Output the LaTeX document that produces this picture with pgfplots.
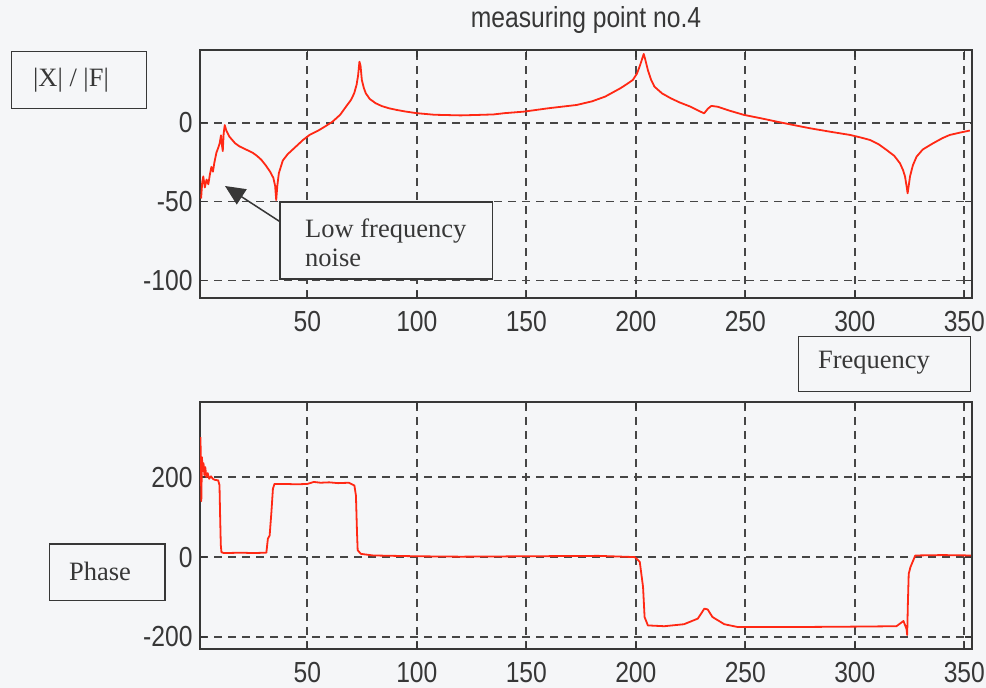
\documentclass[border=0pt]{standalone}
\usepackage{pgfplots}
\pgfplotsset{compat=1.18}
\usepackage{fontspec}
\setmainfont{Liberation Serif}
\newfontfamily\plotfont[FakeStretch=0.85]{Liberation Sans}
\usetikzlibrary{arrows.meta}

\definecolor{bg}{RGB}{245,246,248}
\definecolor{frame}{RGB}{55,55,55}
\definecolor{gridc}{RGB}{70,70,70}
\definecolor{curve}{RGB}{255,40,20}

\pgfplotsset{
  matlab/.style={
    scale only axis,
    width=772bp, height=248bp,
    xmin=1, xmax=353.5,
    xtick={50,100,150,200,250,300,350},
    xticklabels={50,100,150,200,250,300,350},
    grid=major,
    grid style={gridc, line width=1.7bp, dash pattern=on 8bp off 6bp},
    major grid style={gridc, line width=1.7bp, dash pattern=on 8bp off 6bp},
    axis line style={frame, line width=1.7bp},
    tick align=inside, tick pos=both,
    major tick length=7bp,
    tick style={frame, line width=1.5bp},
    ticklabel style={font=\plotfont\fontsize{29bp}{29bp}\selectfont, text=frame},
    xticklabel style={inner sep=1.5bp, yshift=-11.5bp},
    yticklabel style={xshift=-4bp},
  },
  trace/.style={curve, line width=1.8bp, line join=round},
}

\newcommand\boxfont{\fontsize{26.5bp}{28bp}\selectfont}

\begin{document}
\begin{tikzpicture}
\useasboundingbox (0,0) rectangle (986bp,688bp);
\fill[bg] (0,0) rectangle (986bp,688bp);

% magnitude of the frequency response
\begin{axis}[matlab, at={(200bp,390bp)}, anchor=south west,
  ymin=-111, ymax=46,
  ytick={-100,-50,0}, yticklabels={-100,-50,0}]
\addplot[trace] coordinates {
 (1.5,-48) (2.0,-38) (2.5,-34) (3.2,-41) (4.0,-36) (4.8,-39) (5.5,-33)
 (6.2,-28) (6.9,-31) (7.6,-25) (8.5,-19) (9.3,-16) (10.0,-13) (10.6,-8)
 (11.0,-14) (11.4,-18) (11.8,-7) (12.3,-1.5) (13.0,-5) (14.5,-9) (17,-13)
 (19,-15) (22,-17) (25,-19) (27,-21) (29,-23.5) (31,-27) (33,-31)
 (34.5,-35) (35.3,-40) (35.8,-49) (36.3,-40) (37,-32) (38.8,-24) (41,-20)
 (44.9,-15) (48,-11) (51,-7.8) (55,-5) (58,-2.5) (61.5,0.6) (65,5)
 (67.6,10) (70,14.5) (71.4,18.6) (72.5,24) (73.2,30) (73.8,38.6) (74.3,36)
 (74.9,27) (75.8,22) (76.7,18.6) (78.5,15) (81.2,12.3) (84,10.5) (87.3,9.1)
 (91,8) (95,7) (100,6) (104,5.5) (108,5) (120,4.6) (128,4.9) (135,5.2)
 (140,6.0) (149,7) (160,9.1) (173,11.2) (180,13.5) (186,16.5) (193,21.8)
 (196,24.5) (198.6,27) (200.5,31) (201.7,35.4) (202.8,40) (203.6,43.5)
 (204.3,40) (205.5,33.3) (207,27) (208.5,22.8) (212,18.5) (216,15.4)
 (220,12.8) (225,10.1) (229,7.3) (231.2,5.9) (233,9) (234.5,10.6)
 (237.3,10.1) (243,7.5) (249.4,4.9) (257,2.8) (264.5,0.6) (272,-1.5)
 (279.7,-3.6) (289,-5.8) (297.9,-7.8) (303,-9.5) (307,-11) (311,-13.8)
 (314.5,-17.3) (318,-21) (320.6,-25.7) (322,-30) (322.9,-34) (323.6,-40)
 (324.1,-44.7) (324.6,-40) (325.2,-34) (326.5,-27) (328.2,-21.5) (331,-17)
 (335.8,-13) (340,-9.8) (343.3,-7.8) (348,-6.3) (352.5,-5)
};
\end{axis}

% phase of the frequency response
\begin{axis}[matlab, at={(200bp,39bp)}, anchor=south west,
  height=247bp,
  ymin=-230, ymax=388,
  ytick={-200,0,200}, yticklabels={-200,0,200}]
\addplot[trace] coordinates {
 (1.2,300) (1.4,240) (1.6,140) (1.9,250) (2.2,215) (2.6,235) (3.0,205)
 (3.4,225) (3.9,200) (4.5,210) (5.2,196) (6,202) (7,195) (8,193) (9.3,192)
 (9.9,180) (10.2,100) (10.5,30) (10.8,12) (12,10) (20,11) (25,10)
 (31.3,11) (32,46) (32.8,54) (33.6,112) (34.3,171) (35,183) (40,183)
 (45,182) (50,183) (53,188) (56,186) (60,187) (64,185) (69,186) (71.5,179)
 (72.2,154) (72.7,60) (73,17) (74.5,8) (80,4) (90,3) (100,2) (120,1)
 (150,2) (183,3) (199.5,0) (201.8,-12) (203.3,-75) (204,-150) (205.5,-171)
 (213,-173) (222,-168) (228.3,-154) (231.3,-129) (232.8,-131) (235,-150)
 (240.4,-168) (246.5,-175) (274,-175) (300,-174) (319,-173) (322.2,-160)
 (323.6,-180) (323.9,-195) (324.2,-120) (324.6,-42) (325.4,-25) (327.6,4)
 (340,5) (353,4)
};
\end{axis}

% title
\node[font=\plotfont\fontsize{29bp}{29bp}\selectfont, text=frame]
  at (586bp,668bp) {measuring point no.4};

% label boxes
\draw[frame, line width=1.5bp] (11.7bp,636.3bp) rectangle (146.7bp,579.7bp);
\node[font=\boxfont, text=frame] at (71bp,608bp) {|X| / |F|};

\draw[frame, line width=1.5bp] (798.3bp,351.3bp) rectangle (970.7bp,296.3bp);
\node[font=\boxfont, text=frame] at (874bp,325bp) {Frequency};

\draw[frame, line width=1.5bp] (49.3bp,144bp) rectangle (165bp,87.3bp);
\node[font=\boxfont, text=frame] at (100bp,117bp) {Phase};

% annotation
\draw[frame, line width=1.5bp, fill=bg] (280bp,486bp) rectangle (492.7bp,409bp);
\node[font=\boxfont, text=frame, anchor=base west] at (301.7bp,450bp) {Low frequency};
\node[font=\boxfont, text=frame, anchor=base west] at (301.7bp,421.3bp) {noise};
\draw[frame, line width=1.5bp, -{Triangle[length=20bp,width=18bp]}]
  (280bp,466.3bp) -- (225bp,502bp);
\end{tikzpicture}
\end{document}
